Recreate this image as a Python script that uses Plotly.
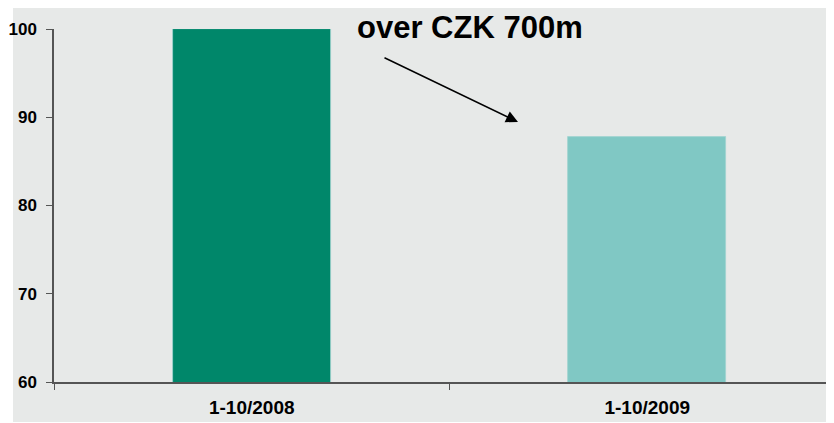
import plotly.graph_objects as go

categories = ["1-10/2008", "1-10/2009"]
values = [100, 87.8]
bar_colors = ["#00876A", "#80C8C4"]
y_ticks = [60, 70, 80, 90, 100]
annotation_text = "over CZK 700m"

# the page places the figure at (8, 8); all pixel positions below are in figure space
W, H = 826, 415
ml, mr, mt, mb = 46, 0, 21, 41
pw = W - ml - mr
ph = H - mt - mb
bg = "#E7E9E8"
FONT = "Liberation Sans, Arial, sans-serif"

fig = go.Figure()
fig.add_trace(go.Bar(
    x=categories, y=values, width=0.4,
    marker=dict(color=bar_colors, line=dict(color="#9FD3CF", width=0.8)),
))

fig.update_layout(
    width=W, height=H,
    margin=dict(l=ml, r=mr, t=mt, b=mb, pad=0, autoexpand=False),
    paper_bgcolor="white",
    plot_bgcolor=bg,
    showlegend=False,
    font=dict(family=FONT, size=13, color="black"),
    bargap=0,
)

fig.add_shape(type="rect", xref="paper", yref="paper",
              x0=-(ml - 5) / pw, x1=1.01, y0=-(414 - (H - mb)) / ph, y1=1 + (mt + 2) / ph,
              fillcolor=bg, line=dict(width=0), layer="below")

fig.update_xaxes(
    type="category", range=[-0.5, 1.5 - 11 / 395.5], automargin=False,
    showline=True, linecolor="#555555", linewidth=1.5,
    ticks="outside", ticklen=6, tickcolor="#555555", tickson="boundaries",
    tickfont=dict(family=FONT, size=19, color="black", weight="bold"),
    showgrid=False, zeroline=False, ticklabelstandoff=7,
)
fig.update_yaxes(
    range=[60, 100], tickvals=y_ticks, automargin=False,
    showline=True, linecolor="#555555", linewidth=1.5,
    ticks="outside", ticklen=6, tickcolor="#555555",
    tickfont=dict(family=FONT, size=17, color="black", weight="bold"),
    showgrid=False, zeroline=False, ticklabelstandoff=6,
)

fig.add_annotation(
    xref="paper", yref="paper",
    x=(461.5 - ml) / pw, y=1 + mt / ph, yanchor="top",
    text="<b>" + annotation_text + "</b>", showarrow=False,
    font=dict(size=31, family=FONT, color="black"),
)
fig.add_annotation(
    xref="paper", yref="paper",
    x=(510 - ml) / pw, y=1 - (114 - mt) / ph,
    ax=375 - 510, ay=49 - 114, axref="pixel", ayref="pixel",
    text="", showarrow=True, arrowhead=2, arrowsize=1.6, arrowwidth=1.5, arrowcolor="black",
)

fig.write_html("out.html")
